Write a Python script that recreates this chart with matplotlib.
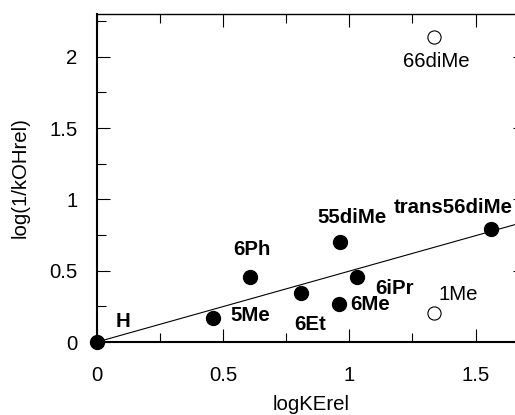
import numpy as np
import matplotlib
matplotlib.use("Agg")
import matplotlib.pyplot as plt

plt.rcParams['font.family'] = ['Liberation Sans', 'DejaVu Sans']

# substituents, filled = fitted set, open = outliers
names = ["H", "5Me", "6Ph", "55diMe", "trans56diMe", "6iPr", "6Me", "6Et"]
log_ke = [0.0, 0.46, 0.606, 0.962, 1.563, 1.031, 0.96, 0.807]
log_koh = [0.0, 0.167, 0.456, 0.704, 0.791, 0.454, 0.267, 0.346]

out_names = ["1Me", "66diMe"]
out_ke = [1.336, 1.336]
out_koh = [0.201, 2.142]

fit_slope = 0.497

# label offsets (points) from each marker
offs = {"H": (13.7, 10.8), "5Me": (12.2, -2.2), "6Ph": (-12.2, 15.8),
        "55diMe": (-15.8, 13.7), "trans56diMe": (-70.3, 11.7),
        "6iPr": (12.7, -12), "6Me": (7.7, -4.3), "6Et": (-4.8, -26.9),
        "1Me": (3.4, 9.6), "66diMe": (-22.5, -21.8)}

fs = 14.7

fig = plt.figure(figsize=(5.15, 4.15), dpi=100)
ax = fig.add_axes([97/515, 1-342/415, 429/515, 328/415])

ax.axline((0, 0), slope=fit_slope, color="k", lw=0.8, zorder=2)
ax.plot(log_ke, log_koh, "o", color="k", ms=10, clip_on=False, zorder=3)
ax.plot(out_ke, out_koh, "o", mfc="white", mec="k", mew=0.8, ms=9.5, zorder=3)

for n, x, y in zip(names, log_ke, log_koh):
    ax.annotate(n, (x, y), xytext=offs[n], textcoords="offset points",
                ha="left", va="baseline", fontsize=fs, fontweight="bold")
for n, x, y in zip(out_names, out_ke, out_koh):
    ax.annotate(n, (x, y), xytext=offs[n], textcoords="offset points",
                ha="left", va="baseline", fontsize=fs)

ax.set_xlim(0, 1.7)
ax.set_ylim(0, 2.3)
ax.set_xticks([0, 0.5, 1, 1.5])
ax.set_xticklabels(["0", "0.5", "1", "1.5"])
ax.set_yticks([0, 0.5, 1, 1.5, 2])
ax.set_yticklabels(["0", "0.5", "1", "1.5", "2"])
ax.set_xticks(np.arange(0, 1.71, 0.25), minor=True)
ax.set_yticks(np.arange(0, 2.31, 0.25), minor=True)
ax.tick_params(which="both", direction="in", top=True, right=True, width=0.8, labelsize=fs)
ax.tick_params(which="major", length=9.4)
ax.tick_params(which="minor", length=6.5)
ax.tick_params(axis="x", pad=17)
ax.tick_params(axis="y", pad=14)

for s in ["left", "bottom"]:
    ax.spines[s].set_linewidth(1.5)
for s in ["top", "right"]:
    ax.spines[s].set_linewidth(1.0)

ax.set_xlabel("logKErel", fontsize=fs)
ax.set_ylabel("log(1/kOHrel)", fontsize=fs)
ax.xaxis.set_label_coords(0.5, -0.163)
ax.yaxis.set_label_coords(-0.158, 0.5)

fig.savefig("out.png", dpi=100)
